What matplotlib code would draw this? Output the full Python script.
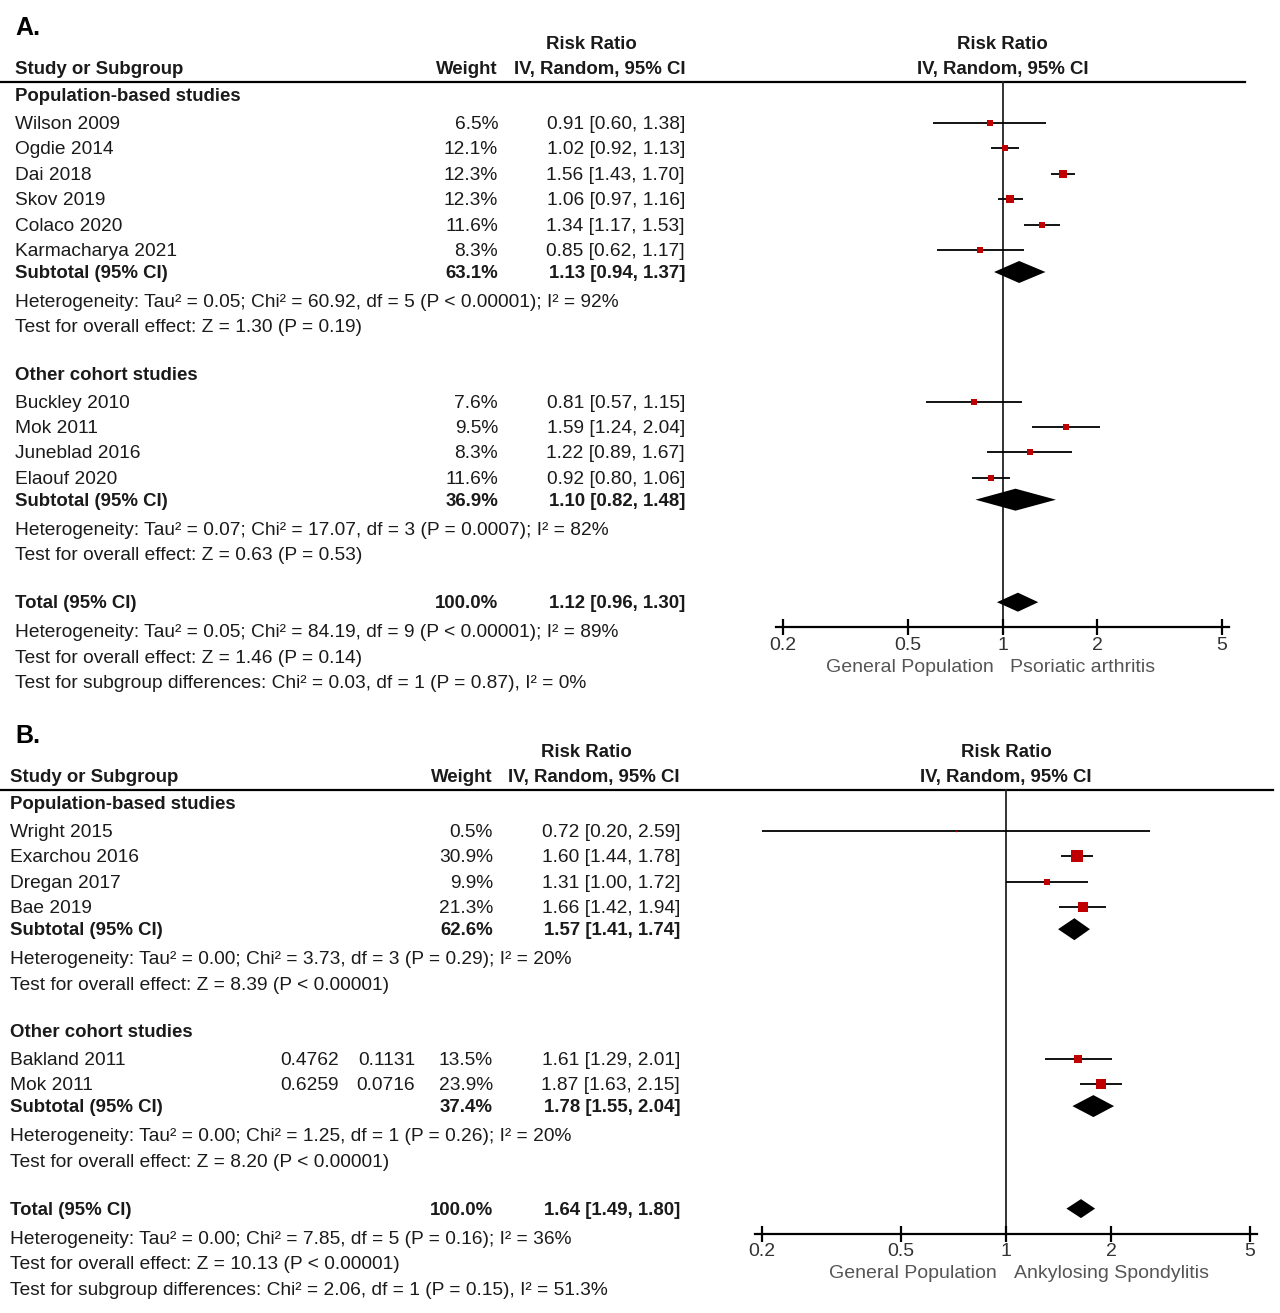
#!/usr/bin/env python3
"""Forest plots: risk ratio of (A) psoriatic arthritis and (B) ankylosing spondylitis."""

import matplotlib
matplotlib.use('Agg')
import matplotlib.pyplot as plt
import numpy as np

W_PX, H_PX = 1280, 1313
DPI = 100

# ---- panel A data ----
A_pop_names  = ['Wilson 2009', 'Ogdie 2014', 'Dai 2018', 'Skov 2019', 'Colaco 2020', 'Karmacharya 2021']
A_pop_weight = [6.5, 12.1, 12.3, 12.3, 11.6, 8.3]
A_pop_rr     = [0.91, 1.02, 1.56, 1.06, 1.34, 0.85]
A_pop_lo     = [0.60, 0.92, 1.43, 0.97, 1.17, 0.62]
A_pop_hi     = [1.38, 1.13, 1.70, 1.16, 1.53, 1.17]
A_pop_sub    = (63.1, 1.13, 0.94, 1.37)
A_pop_stats  = ['Heterogeneity: Tau² = 0.05; Chi² = 60.92, df = 5 (P < 0.00001); I² = 92%',
                'Test for overall effect: Z = 1.30 (P = 0.19)']

A_oth_names  = ['Buckley 2010', 'Mok 2011', 'Juneblad 2016', 'Elaouf 2020']
A_oth_weight = [7.6, 9.5, 8.3, 11.6]
A_oth_rr     = [0.81, 1.59, 1.22, 0.92]
A_oth_lo     = [0.57, 1.24, 0.89, 0.80]
A_oth_hi     = [1.15, 2.04, 1.67, 1.06]
A_oth_sub    = (36.9, 1.10, 0.82, 1.48)
A_oth_stats  = ['Heterogeneity: Tau² = 0.07; Chi² = 17.07, df = 3 (P = 0.0007); I² = 82%',
                'Test for overall effect: Z = 0.63 (P = 0.53)']

A_total      = (100.0, 1.12, 0.96, 1.30)
A_tot_stats  = ['Heterogeneity: Tau² = 0.05; Chi² = 84.19, df = 9 (P < 0.00001); I² = 89%',
                'Test for overall effect: Z = 1.46 (P = 0.14)',
                'Test for subgroup differences: Chi² = 0.03, df = 1 (P = 0.87), I² = 0%']
A_favours    = ('General Population', 'Psoriatic arthritis')

# ---- panel B data ----
B_pop_names  = ['Wright 2015', 'Exarchou 2016', 'Dregan 2017', 'Bae 2019']
B_pop_weight = [0.5, 30.9, 9.9, 21.3]
B_pop_rr     = [0.72, 1.60, 1.31, 1.66]
B_pop_lo     = [0.20, 1.44, 1.00, 1.42]
B_pop_hi     = [2.59, 1.78, 1.72, 1.94]
B_pop_sub    = (62.6, 1.57, 1.41, 1.74)
B_pop_stats  = ['Heterogeneity: Tau² = 0.00; Chi² = 3.73, df = 3 (P = 0.29); I² = 20%',
                'Test for overall effect: Z = 8.39 (P < 0.00001)']

B_oth_names  = ['Bakland 2011', 'Mok 2011']
B_oth_weight = [13.5, 23.9]
B_oth_rr     = [1.61, 1.87]
B_oth_lo     = [1.29, 1.63]
B_oth_hi     = [2.01, 2.15]
B_oth_logrr  = ['0.4762', '0.6259']
B_oth_se     = ['0.1131', '0.0716']
B_oth_sub    = (37.4, 1.78, 1.55, 2.04)
B_oth_stats  = ['Heterogeneity: Tau² = 0.00; Chi² = 1.25, df = 1 (P = 0.26); I² = 20%',
                'Test for overall effect: Z = 8.20 (P < 0.00001)']

B_total      = (100.0, 1.64, 1.49, 1.80)
B_tot_stats  = ['Heterogeneity: Tau² = 0.00; Chi² = 7.85, df = 5 (P = 0.16); I² = 36%',
                'Test for overall effect: Z = 10.13 (P < 0.00001)',
                'Test for subgroup differences: Chi² = 2.06, df = 1 (P = 0.15), I² = 51.3%']
B_favours    = ('General Population', 'Ankylosing Spondylitis')

TICKS       = [0.2, 0.5, 1, 2, 5]
TICK_LABELS = ['0.2', '0.5', '1', '2', '5']

TXT      = '#1a1a1a'
SQ_RED   = '#c00000'
SANS     = ['Liberation Sans', 'DejaVu Sans']
REG      = dict(family=SANS, fontsize=13.8, color=TXT)
BOLD     = dict(family=SANS, fontsize=13.4, fontweight='bold', color=TXT)
AXFONT   = dict(family=SANS, fontsize=14, color='#333333')
FAVFONT  = dict(family=SANS, fontsize=14, color='#555555')

STEP    = 25.4
TEXT_DY = 1.5   # text sits a touch lower than the marks in the original


def ci_text(rr, lo, hi):
    return f'{rr:.2f} [{lo:.2f}, {hi:.2f}]'


def put(tx, x, y, s, ha, font):
    tx.text(x, y + TEXT_DY, s, ha=ha, va='center', **font)


def make_forest_ax(fig, px_left, px_right, py_top, py_bot, center, per_dec):
    ax = fig.add_axes([px_left / W_PX, 1 - py_bot / H_PX,
                       (px_right - px_left) / W_PX, (py_bot - py_top) / H_PX])
    ax.set_xscale('log')
    ax.set_xlim(10 ** ((px_left - center) / per_dec), 10 ** ((px_right - center) / per_dec))
    ax.set_ylim(py_bot, py_top)
    ax.axis('off')
    ax.patch.set_alpha(0)
    return ax


def diamond(ax, est, lo, hi, y, h=20):
    ax.fill([lo, est, hi, est], [y, y - h / 2, y, y + h / 2], color='black', lw=0, zorder=4)


def study_row(tx, ax, y, cols, name, w, rr, lo, hi, extra=None):
    put(tx, cols['name'], y, name, 'left', REG)
    if extra is not None:
        put(tx, cols['ex1'], y, extra[0], 'right', REG)
        put(tx, cols['ex2'], y, extra[1], 'right', REG)
    put(tx, cols['weight'], y, f'{w:.1f}%', 'right', REG)
    put(tx, cols['ci'], y, ci_text(rr, lo, hi), 'right', REG)
    ax.plot([lo, hi], [y, y], color='black', lw=1.3, solid_capstyle='butt', zorder=3)
    side_px = 2.0 * np.sqrt(w)
    ax.plot([rr], [y], marker='s', ms=side_px * 72 / DPI, color=SQ_RED, mec=SQ_RED, mew=0, zorder=5)


def summary_row(tx, ax, y, cols, label, vals, h=20):
    w, rr, lo, hi = vals
    put(tx, cols['name'], y, label, 'left', BOLD)
    put(tx, cols['weight'], y, f'{w:.1f}%', 'right', BOLD)
    put(tx, cols['ci'], y, ci_text(rr, lo, hi), 'right', BOLD)
    diamond(ax, rr, lo, hi, y, h)


def draw_panel(fig, tx, letter, line_y, cols, fcfg, groups, total, tot_stats, favours):
    # panel letter and headers
    tx.text(15, line_y - 54, letter, ha='left', va='center',
            family=SANS, fontsize=18, fontweight='bold', color='black')
    put(tx, cols['ci'] - 94, line_y - 39, 'Risk Ratio', 'center', BOLD)
    put(tx, cols['ci'], line_y - 14, 'IV, Random, 95% CI', 'right', BOLD)
    put(tx, cols['weight'], line_y - 14, 'Weight', 'right', BOLD)
    put(tx, cols['name'], line_y - 14, 'Study or Subgroup', 'left', BOLD)
    put(tx, fcfg['center'], line_y - 39, 'Risk Ratio', 'center', BOLD)
    put(tx, fcfg['center'], line_y - 14, 'IV, Random, 95% CI', 'center', BOLD)
    tx.plot([0, fcfg['line_end']], [line_y, line_y], color='black', lw=1.6)

    ax = make_forest_ax(fig, fcfg['left'], fcfg['right'], line_y - 90, line_y + 620,
                        fcfg['center'], fcfg['per_dec'])

    y = line_y + 13
    for gi, g in enumerate(groups):
        if gi > 0:
            y += 47
        put(tx, cols['name'], y, g['title'], 'left', BOLD)
        y += 28
        for i, name in enumerate(g['names']):
            if i > 0:
                y += STEP
            extra = None
            if g.get('extra') is not None:
                extra = (g['extra'][0][i], g['extra'][1][i])
            study_row(tx, ax, y, cols, name, g['weight'][i], g['rr'][i], g['lo'][i], g['hi'][i], extra)
        y += 22
        summary_row(tx, ax, y, cols, 'Subtotal (95% CI)', g['sub'], h=22)
        y += 29
        put(tx, cols['name'], y, g['stats'][0], 'left', REG)
        y += 25.5
        put(tx, cols['name'], y, g['stats'][1], 'left', REG)

    y += 48
    summary_row(tx, ax, y, cols, 'Total (95% CI)', total, h=19)
    axis_y = y + 25
    y += 29
    for s in tot_stats:
        put(tx, cols['name'], y, s, 'left', REG)
        y += 25.5

    # null line and scale
    ax.plot([1, 1], [line_y, axis_y], color='#222222', lw=1.3, zorder=2)
    pad = 10 ** (7 / fcfg['per_dec'])
    ax.plot([TICKS[0] / pad, TICKS[-1] * pad], [axis_y, axis_y], color='black', lw=1.6)
    ax.vlines(TICKS, axis_y - 8, axis_y + 8, color='black', lw=1.6)
    for t, lab in zip(TICKS, TICK_LABELS):
        ax.text(t, axis_y + 18, lab, ha='center', va='center', **AXFONT)
    ax.text(10 ** (-9 / fcfg['per_dec']), axis_y + 40, favours[0], ha='right', va='center', **FAVFONT)
    ax.text(10 ** (8 / fcfg['per_dec']), axis_y + 40, favours[1], ha='left', va='center', **FAVFONT)


def main():
    fig = plt.figure(figsize=(W_PX / DPI, H_PX / DPI), dpi=DPI)
    fig.patch.set_facecolor('white')
    tx = fig.add_axes([0, 0, 1, 1])
    tx.set_xlim(0, W_PX)
    tx.set_ylim(H_PX, 0)
    tx.axis('off')

    groups_a = [
        dict(title='Population-based studies', names=A_pop_names, weight=A_pop_weight,
             rr=A_pop_rr, lo=A_pop_lo, hi=A_pop_hi, sub=A_pop_sub, stats=A_pop_stats),
        dict(title='Other cohort studies', names=A_oth_names, weight=A_oth_weight,
             rr=A_oth_rr, lo=A_oth_lo, hi=A_oth_hi, sub=A_oth_sub, stats=A_oth_stats),
    ]
    groups_b = [
        dict(title='Population-based studies', names=B_pop_names, weight=B_pop_weight,
             rr=B_pop_rr, lo=B_pop_lo, hi=B_pop_hi, sub=B_pop_sub, stats=B_pop_stats),
        dict(title='Other cohort studies', names=B_oth_names, weight=B_oth_weight,
             rr=B_oth_rr, lo=B_oth_lo, hi=B_oth_hi, sub=B_oth_sub, stats=B_oth_stats,
             extra=(B_oth_logrr, B_oth_se)),
    ]

    cols_a = dict(name=15, weight=498, ci=685)
    cols_b = dict(name=10, weight=493, ci=680, ex1=339, ex2=415)
    fcfg_a = dict(left=740, right=1260, center=1002.5, per_dec=314, line_end=1245)
    fcfg_b = dict(left=740, right=1275, center=1006, per_dec=349, line_end=1273)

    draw_panel(fig, tx, 'A.', 82, cols_a, fcfg_a, groups_a, A_total, A_tot_stats, A_favours)
    draw_panel(fig, tx, 'B.', 790, cols_b, fcfg_b, groups_b, B_total, B_tot_stats, B_favours)

    fig.savefig('out.png', dpi=DPI, facecolor='white')
    plt.close(fig)


if __name__ == '__main__':
    main()
